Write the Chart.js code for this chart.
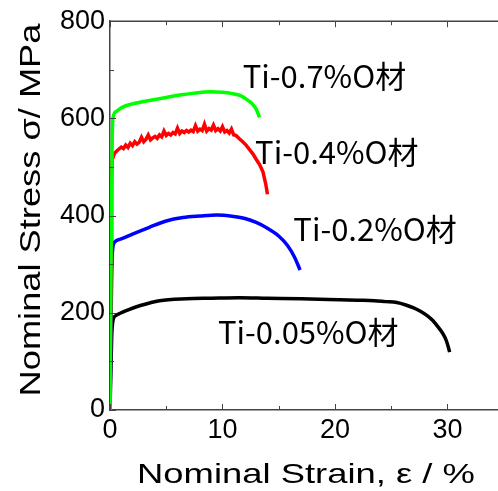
<!DOCTYPE html>
<html>
<head>
<meta charset="utf-8">
<script src="https://cdn.jsdelivr.net/npm/chart.js@4.4.1/dist/chart.umd.min.js"></script>
<style>
  body { margin: 0; background: #fff; }
  canvas { display: block; }
</style>
</head>
<body>
<canvas id="stressChart" width="498" height="491"></canvas>
<script>
// tick positions
const xTicks = [0, 10, 20, 30];
const xMinor = [5, 15, 25];
const yTicks = [0, 200, 400, 600, 800];
const yMinor = [100, 300, 500, 700];

// Ti-0.7%O
const strain07 = [0, 0.1, 0.2, 0.3, 0.6, 1.0, 2.0, 3.5, 5.0, 6.2, 7.5, 8.9, 10.0, 10.9, 11.6, 12.1, 12.6, 13.0, 13.3];
const stress07 = [0, 330, 560, 605, 615, 622, 630, 637, 643, 648, 652, 655, 654, 651, 647, 640, 631, 619, 602];

// Ti-0.4%O (serrated)
const strain04 = [0, 0.1, 0.15, 0.2, 0.4, 0.6, 0.8, 1.0, 1.2, 1.4, 1.6, 1.8, 2.0, 2.2, 2.4, 2.6, 2.8, 3.0, 3.2, 3.4,
                  3.6, 3.8, 4.0, 4.2, 4.4, 4.6, 4.8, 5.0, 5.2, 5.4, 5.6, 5.8, 6.0, 6.2, 6.4, 6.6, 6.8, 7.0, 7.2,
                  7.4, 7.6, 7.8, 8.0, 8.2, 8.4, 8.6, 8.8, 9.0, 9.2, 9.4, 9.6, 9.8, 10.0, 10.2, 10.4, 10.6, 10.8,
                  11.0, 11.2, 11.5, 11.8, 12.1, 12.4, 12.7, 13.0, 13.3, 13.6, 13.85, 14.0];
const stress04 = [0, 300, 480, 515, 528, 533, 537, 541, 538, 545, 540, 549, 544, 552, 547, 551, 561, 552, 557, 566,
                  556, 560, 563, 559, 566, 562, 574, 565, 569, 566, 571, 568, 580, 569, 574, 571, 575, 572, 576,
                  573, 585, 574, 578, 575, 588, 574, 579, 576, 586, 575, 579, 574, 583, 572, 575, 570, 578,
                  566, 565, 558, 552, 545, 536, 527, 516, 505, 490, 465, 444];

// Ti-0.2%O
const strain02 = [0, 0.1, 0.2, 0.4, 1.0, 2.0, 3.5, 5.0, 6.5, 8.0, 9.5, 11.0, 12.0, 13.0, 14.0, 15.0, 15.8, 16.4, 16.9];
const stress02 = [0, 200, 320, 345, 352, 362, 376, 389, 396, 399, 401, 398, 394, 386, 374, 358, 338, 315, 288];

// Ti-0.05%O
const strain005 = [0, 0.1, 0.15, 0.2, 0.3, 0.5, 0.9, 1.5, 2.7, 4.4, 6.8, 9, 11.5, 14, 17, 20.4, 22, 23.5, 24.5, 25.5,
                   26.3, 27.0, 27.6, 28.2, 28.7, 29.2, 29.6, 29.9, 30.1, 30.2];
const stress005 = [0, 100, 150, 172, 188, 194, 199, 205, 215, 225, 229, 230, 231, 230, 229, 227, 226, 225, 223, 221,
                   216, 210, 203, 194, 184, 170, 157, 143, 128, 119];

const seriesNames = ['Ti-0.7%O材', 'Ti-0.4%O材', 'Ti-0.2%O材', 'Ti-0.05%O材'];
const seriesColors = ['#00ff00', '#ff0000', '#0000ff', '#000000'];
// label anchor (left edge, vertical middle) in data units
const labelX = [11.8, 12.9, 16.3, 9.6];
const labelY = [686, 531, 373, 160];

function toPoints(xs, ys) {
    return xs.map((x, i) => ({x: x, y: ys[i]}));
}

const curves = [
    toPoints(strain07, stress07),
    toPoints(strain04, stress04),
    toPoints(strain02, stress02),
    toPoints(strain005, stress005)
];

const axisColor = '#444';

const decorPlugin = {
    id: 'decor',
    afterDraw(chart) {
        const ctx = chart.ctx;
        const area = chart.chartArea;
        const xs = chart.scales.x;
        const ys = chart.scales.y;
        ctx.save();

        // top frame line
        ctx.strokeStyle = axisColor;
        ctx.lineWidth = 1.5;
        ctx.beginPath();
        ctx.moveTo(area.left, area.top);
        ctx.lineTo(area.right, area.top);
        ctx.stroke();

        // inward ticks
        ctx.lineWidth = 1;
        function xTick(v, len) {
            const px = Math.round(xs.getPixelForValue(v)) + 0.5;
            ctx.beginPath();
            ctx.moveTo(px, area.bottom);
            ctx.lineTo(px, area.bottom - len);
            ctx.moveTo(px, area.top);
            ctx.lineTo(px, area.top + len);
            ctx.stroke();
        }
        function yTick(v, len) {
            const py = Math.round(ys.getPixelForValue(v)) + 0.5;
            ctx.beginPath();
            ctx.moveTo(area.left, py);
            ctx.lineTo(area.left + len, py);
            ctx.stroke();
        }
        xTicks.forEach(v => xTick(v, 6));
        xMinor.forEach(v => xTick(v, 4));
        yTicks.forEach(v => yTick(v, 6));
        yMinor.forEach(v => yTick(v, 4));

        // series labels
        ctx.fillStyle = '#000';
        ctx.font = "31px 'Noto Sans CJK JP', sans-serif";
        ctx.textAlign = 'left';
        ctx.textBaseline = 'middle';
        seriesNames.forEach((name, i) => {
            ctx.fillText(name, xs.getPixelForValue(labelX[i]), ys.getPixelForValue(labelY[i]));
        });

        // axis titles
        ctx.font = "28px 'Liberation Sans', Arial, sans-serif";
        ctx.textAlign = 'center';
        ctx.textBaseline = 'alphabetic';
        ctx.save();
        ctx.translate(306, 483);
        ctx.scale(1.3, 1);
        ctx.fillText('Nominal Strain, ε / %', 0, 0);
        ctx.restore();

        ctx.font = "29px 'Liberation Sans', Arial, sans-serif";
        ctx.save();
        ctx.translate(40, 210);
        ctx.rotate(-Math.PI / 2);
        ctx.scale(1.25, 1);
        ctx.fillText('Nominal Stress σ/ MPa', 0, 0);
        ctx.restore();

        ctx.restore();
    }
};

const ctx = document.getElementById('stressChart').getContext('2d');
new Chart(ctx, {
    type: 'line',
    data: {
        datasets: curves.map((pts, i) => ({
            label: seriesNames[i],
            data: pts,
            borderColor: seriesColors[i],
            backgroundColor: seriesColors[i],
            borderWidth: 3.5,
            pointRadius: 0,
            tension: i === 1 ? 0 : 0.4,
            cubicInterpolationMode: i === 1 ? 'default' : 'monotone',
            fill: false
        }))
    },
    options: {
        responsive: false,
        animation: false,
        layout: { padding: { top: 19, right: 0, left: 0, bottom: 0 } },
        plugins: {
            legend: { display: false },
            tooltip: { enabled: false }
        },
        scales: {
            x: {
                type: 'linear',
                min: 0,
                max: 34.5,
                afterBuildTicks: s => { s.ticks = xTicks.map(v => ({value: v})); },
                afterFit: s => { s.height = 81; },
                ticks: {
                    color: '#000',
                    font: { family: "'Liberation Sans', Arial, sans-serif", size: 27 },
                    padding: 4,
                    maxRotation: 0
                },
                grid: { display: false, drawTicks: false },
                border: { color: axisColor, width: 1.5 }
            },
            y: {
                type: 'linear',
                min: 0,
                max: 800,
                afterBuildTicks: s => { s.ticks = yTicks.map(v => ({value: v})); },
                afterFit: s => { s.width = 110; },
                ticks: {
                    color: '#000',
                    font: { family: "'Liberation Sans', Arial, sans-serif", size: 27 },
                    padding: 5
                },
                grid: { display: false, drawTicks: false },
                border: { color: axisColor, width: 1.5 }
            }
        }
    },
    plugins: [decorPlugin]
});
</script>
</body>
</html>
